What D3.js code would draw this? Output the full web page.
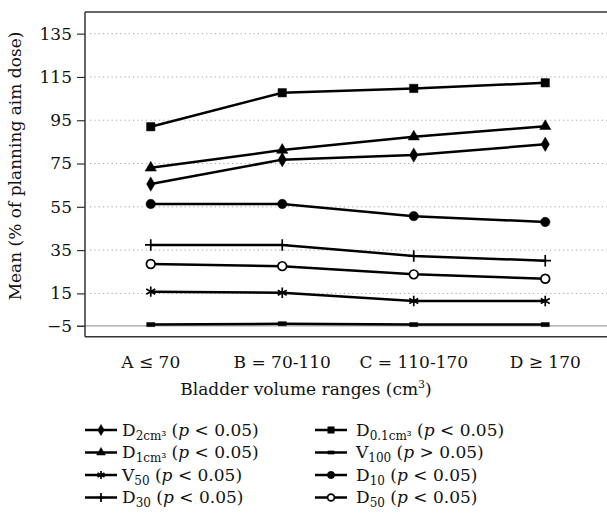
<!DOCTYPE html>
<html>
<head>
<meta charset="utf-8">
<script src="https://cdn.jsdelivr.net/npm/d3@7"></script>
<style>
  body { margin: 0; background: #fff; }
  text { font-family: "DejaVu Serif", serif; fill: #111; }
</style>
</head>
<body>
<div class="chart"></div>
<script>
// categories and series values
var categories = ["A \u2264 70", "B = 70-110", "C = 110-170", "D \u2265 170"];
var d2cm3  = [65.5, 76.8, 78.9, 83.9];
var d01cm3 = [92.0, 107.7, 109.7, 112.3];
var d1cm3  = [73.0, 81.2, 87.4, 92.2];
var v100   = [0.6, 1.0, 0.6, 0.6];
var v50    = [15.8, 15.3, 11.5, 11.5];
var d10    = [56.3, 56.3, 50.7, 48.0];
var d30    = [37.4, 37.4, 32.3, 30.1];
var d50    = [28.6, 27.6, 23.8, 21.8];

var yTickValues = [0, 15, 35, 55, 75, 95, 115, 135];
var yTickLabels = ["\u22125", "15", "35", "55", "75", "95", "115", "135"];

var W = 607, H = 517,
    pLeft = 85, pTop = 12, pBottom = 336.7, pRight = 611;

var x = d3.scaleBand().domain(categories).range([pLeft, pRight]),
    y = d3.scaleLinear().domain([-5, 145]).range([pBottom, pTop]);

// custom flat rectangle marker for V100
var flatRect = {
  draw: function(ctx, size) {
    var w = Math.sqrt(size) * 1.4, h = w / 2;
    ctx.rect(-w / 2, -h / 2, w, h);
  }
};

var series = [
  {name: "D", sub: "2cm\u00b3", sign: "<", values: d2cm3,  sym: d3.symbolDiamond,  size: 60, fill: true},
  {name: "D", sub: "1cm\u00b3", sign: "<", values: d1cm3,  sym: d3.symbolTriangle, size: 55, fill: true},
  {name: "V", sub: "50",         sign: "<", values: v50,    sym: d3.symbolAsterisk, size: 75, fill: false},
  {name: "D", sub: "30",         sign: "<", values: d30,    sym: d3.symbolPlus,     size: 45, fill: false},
  {name: "D", sub: "0.1cm\u00b3", sign: "<", values: d01cm3, sym: d3.symbolSquare, size: 70, fill: true},
  {name: "V", sub: "100",        sign: ">", values: v100,   sym: flatRect,          size: 34, fill: true},
  {name: "D", sub: "10",         sign: "<", values: d10,    sym: d3.symbolCircle,   size: 70, fill: true},
  {name: "D", sub: "50",         sign: "<", values: d50,    sym: d3.symbolCircle,   size: 60, fill: false, open: true}
];

var svg = d3.select(".chart").append("svg")
    .attr("width", W)
    .attr("height", H);

// grid lines
svg.append("g")
  .selectAll("line")
  .data(yTickValues.filter(function(d) { return d > 0; }))
  .join("line")
    .attr("x1", pLeft + 5).attr("x2", W)
    .attr("y1", function(d) { return y(d); })
    .attr("y2", function(d) { return y(d); })
    .attr("stroke", "#aaa")
    .attr("stroke-width", 1)
    .attr("stroke-dasharray", "1.3,3");

// zero line
svg.append("line")
    .attr("x1", pLeft - 8).attr("x2", W)
    .attr("y1", y(0)).attr("y2", y(0))
    .attr("stroke", "#888")
    .attr("stroke-width", 1);

// frame
svg.append("line")
    .attr("x1", pLeft).attr("x2", W).attr("y1", pTop).attr("y2", pTop)
    .attr("stroke", "#333").attr("stroke-width", 1.5);
svg.append("line")
    .attr("x1", pLeft).attr("x2", W).attr("y1", pBottom).attr("y2", pBottom)
    .attr("stroke", "#333").attr("stroke-width", 1.5);

// y axis
var yAxis = svg.append("g")
    .attr("transform", "translate(" + pLeft + ",0)")
    .call(d3.axisLeft(y)
      .tickValues(yTickValues)
      .tickFormat(function(d, i) { return yTickLabels[i]; })
      .tickSize(8)
      .tickPadding(5));
yAxis.select(".domain").remove();
yAxis.append("line")
    .attr("x1", 0).attr("x2", 0).attr("y1", pTop).attr("y2", pBottom)
    .attr("stroke", "#333").attr("stroke-width", 1.5);
yAxis.selectAll(".tick line").attr("stroke", "#333").attr("stroke-width", 1.2);
yAxis.selectAll(".tick text")
    .attr("font-family", "DejaVu Serif")
    .attr("font-size", 17)
    .attr("fill", "#111");

// x axis labels
var xAxis = svg.append("g")
    .attr("transform", "translate(0," + pBottom + ")")
    .call(d3.axisBottom(x).tickSize(0).tickPadding(19));
xAxis.select(".domain").remove();
xAxis.selectAll(".tick text")
    .attr("font-family", "DejaVu Serif")
    .attr("font-size", 17)
    .attr("fill", "#111");

// axis titles
svg.append("text")
    .attr("transform", "translate(21,166) rotate(-90)")
    .attr("text-anchor", "middle")
    .attr("font-size", 17)
    .text("Mean (% of planning aim dose)");

var xt = svg.append("text")
    .attr("x", 306).attr("y", 395)
    .attr("text-anchor", "middle")
    .attr("font-size", 17);
xt.append("tspan").text("Bladder volume ranges (cm");
xt.append("tspan").attr("font-size", 11).attr("dy", -7).text("3");
xt.append("tspan").attr("dy", 7).text(")");

// lines and markers
var line = d3.line()
    .x(function(d, i) { return x(categories[i]) + x.bandwidth() / 2; })
    .y(function(d) { return y(d); });

function marker(sel, s, scale) {
  sel.attr("d", d3.symbol().type(s.sym).size(s.size * scale))
    .attr("fill", s.open ? "#fff" : (s.fill ? "#000" : "none"))
    .attr("stroke", "#000")
    .attr("stroke-width", s.fill && !s.open ? 0.5 : 1.7);
}

var g = svg.append("g");
series.forEach(function(s) {
  g.append("path")
      .attr("d", line(s.values))
      .attr("fill", "none")
      .attr("stroke", "#000")
      .attr("stroke-width", 2.5);
  g.selectAll(null)
    .data(s.values)
    .join("path")
      .attr("transform", function(d, i) {
        return "translate(" + (x(categories[i]) + x.bandwidth() / 2) + "," + y(d) + ")";
      })
      .call(marker, s, 1);
});

// legend
var legX = [85, 315], legY = [430, 452.5, 475, 497.5];
series.forEach(function(s, i) {
  var col = Math.floor(i / 4), row = i % 4;
  var lg = svg.append("g")
      .attr("transform", "translate(" + legX[col] + "," + legY[row] + ")");
  lg.append("line")
      .attr("x1", 0).attr("x2", 32)
      .attr("stroke", "#000").attr("stroke-width", 2.5);
  lg.append("path")
      .attr("transform", "translate(16,0)")
      .call(marker, s, 0.6);
  var t = lg.append("text")
      .attr("x", col ? 41 : 37).attr("y", 5.5)
      .attr("font-size", 17);
  t.append("tspan").text(s.name);
  t.append("tspan").attr("font-size", 12).attr("dy", 4).text(s.sub);
  t.append("tspan").attr("dy", -4).text(" (");
  t.append("tspan").attr("font-style", "italic").text("p");
  t.append("tspan").text(" " + s.sign + " 0.05)");
});
</script>
</body>
</html>
